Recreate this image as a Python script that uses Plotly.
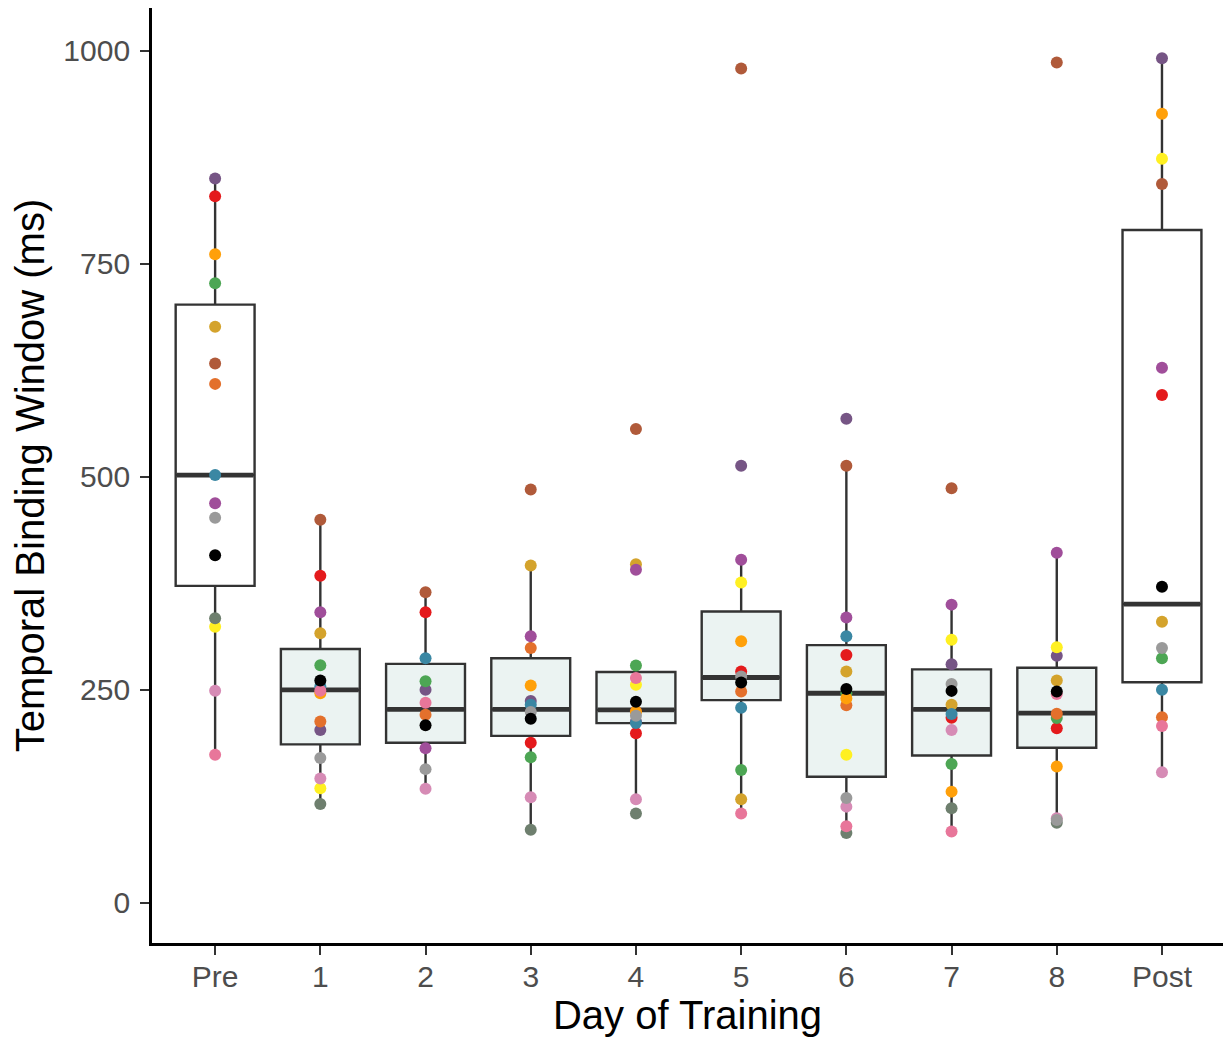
import plotly.graph_objects as go

# ---------------- data ----------------
day_labels = ["Pre", "1", "2", "3", "4", "5", "6", "7", "8", "Post"]
day_pos = [1, 2, 3, 4, 5, 6, 7, 8, 9, 10]

# box statistics (ms)
box_lower = [174, 116, 134, 86, 121.7, 105, 82, 84, 94, 153.4]
box_q1 = [372, 186, 188, 196, 211, 238, 148, 173, 182, 259]
box_median = [502, 250, 227, 227, 226.5, 264.5, 246, 227, 222.6, 350.6]
box_q3 = [702, 298, 280.5, 287, 271, 342, 302.5, 274, 276, 789.5]
box_upper = [850, 449.5, 364.5, 396, 278.5, 402.6, 513, 350, 411, 990.6]

# individual participants (None = not visible / missing)
subj_purplegray = [850, 203, 250, 237, 213, 513, 568, 280, 290, 991]
subj_red = [829, 384, 341, 188, 199, 271.5, 291, 217.4, 205, 596]
subj_green = [727, 279, 260, 171, 278.5, 156, 246, 163, 217, 287]
subj_orange2 = [609, 213, 220.7, 299, 225, 248, 232, None, 222, 218]
subj_gold = [676, 316.5, None, 396, 397.5, 121.7, 271.5, 232.4, 261, 330]
subj_brown = [633, 449.5, 364.5, 485, 556, 979, 513, 486.6, 986, 843.5]
subj_purple = [469, 341, 181.6, 313, 391, 402.6, 335, 350, 411, 628]
subj_teal = [502, 254, 287, 232.4, 211, 229, 313, 221.8, None, 250]
subj_orange = [761, 246, None, 255, 224, 307, 240, 130.6, 160, 926]
subj_yellow = [324, 134.5, None, None, 256, 376, 174, 308.7, 300, 873]
subj_pink = [249, 146, 134, 124, 121.7, None, 113, 203, 99.4, 153.4]
subj_slategreen = [334, 116, None, 86, 105, None, 82, 111, 94, None]
subj_gray = [452, 170, 157, 224, 219.5, 265.6, 123, 257, 97.4, 299]
subj_pink2 = [174, 249, 235, None, 264, 105, 90, 83.7, 245, 207.7]
subj_black = [408, 261, 208.5, 216, 236, 258.6, 251, 248.8, 248, 371]

subjects = [
    (subj_purplegray, "#765585"),
    (subj_red, "#E41A1C"),
    (subj_green, "#4DA654"),
    (subj_orange2, "#E3702C"),
    (subj_gold, "#D4A32C"),
    (subj_brown, "#B05A3A"),
    (subj_purple, "#A04E9A"),
    (subj_teal, "#3A87A3"),
    (subj_orange, "#FFA00A"),
    (subj_yellow, "#FFF022"),
    (subj_pink, "#D68BB5"),
    (subj_slategreen, "#6E7F6E"),
    (subj_gray, "#9A9A9A"),
    (subj_pink2, "#E8769A"),
    (subj_black, "#000000"),
]

white_days = [0, 9]
train_days = [1, 2, 3, 4, 5, 6, 7, 8]
BOX_W = 0.75
LINE_C = "#333333"

fig = go.Figure()


def add_boxes(idx, fill):
    fig.add_trace(go.Box(
        x=[day_pos[i] for i in idx],
        q1=[box_q1[i] for i in idx],
        median=[box_median[i] for i in idx],
        q3=[box_q3[i] for i in idx],
        lowerfence=[box_lower[i] for i in idx],
        upperfence=[box_upper[i] for i in idx],
        width=BOX_W,
        whiskerwidth=0,
        fillcolor=fill,
        line=dict(color=LINE_C, width=2.4),
        boxpoints=False,
        showlegend=False,
        hoverinfo="skip",
    ))


add_boxes(white_days, "#FFFFFF")
add_boxes(train_days, "#EBF3F2")

# thick median lines (ggplot fatten)
mx, my = [], []
for p, m in zip(day_pos, box_median):
    mx += [p - BOX_W / 2 + 0.01, p + BOX_W / 2 - 0.01, None]
    my += [m, m, None]
fig.add_trace(go.Scatter(x=mx, y=my, mode="lines",
                         line=dict(color=LINE_C, width=4.8),
                         showlegend=False, hoverinfo="skip"))

for vals, col in subjects:
    fig.add_trace(go.Scatter(
        x=day_pos, y=vals, mode="markers",
        marker=dict(color=col, size=12, line=dict(width=0)),
        showlegend=False,
    ))

font_fam = "Liberation Sans, Arial, Helvetica, sans-serif"
fig.update_layout(
    width=1223, height=1042,
    margin=dict(l=152, r=0, t=8, b=99),
    paper_bgcolor="white", plot_bgcolor="white",
    boxmode="overlay",
    font=dict(family=font_fam),
    xaxis=dict(
        range=[0.4, 10.58], automargin=False,
        tickmode="array", tickvals=day_pos, ticktext=day_labels,
        showgrid=False, zeroline=False,
        showline=True, linecolor="black", linewidth=2.8,
        ticks="outside", ticklen=9, tickwidth=2.2, tickcolor=LINE_C,
        ticklabelstandoff=-4,
        tickfont=dict(size=30, color="#4D4D4D", family=font_fam),
        title=dict(text="Day of Training", font=dict(size=40, color="black", family=font_fam),
                   standoff=10),
    ),
    yaxis=dict(
        range=[-47, 1050], automargin=False,
        tickmode="array", tickvals=[0, 250, 500, 750, 1000],
        ticktext=["0", "250", "500", "750", "1000"],
        showgrid=False, zeroline=False,
        showline=True, linecolor="black", linewidth=2.8,
        ticks="outside", ticklen=9, tickwidth=2.2, tickcolor=LINE_C,
        ticklabelstandoff=4,
        tickfont=dict(size=30, color="#4D4D4D", family=font_fam),
        title=dict(text="Temporal Binding Window (ms)",
                   font=dict(size=40, color="black", family=font_fam), standoff=7),
    ),
)

fig.write_html("out.html", config={"displayModeBar": False},
               post_script="document.body.style.margin='0';")
